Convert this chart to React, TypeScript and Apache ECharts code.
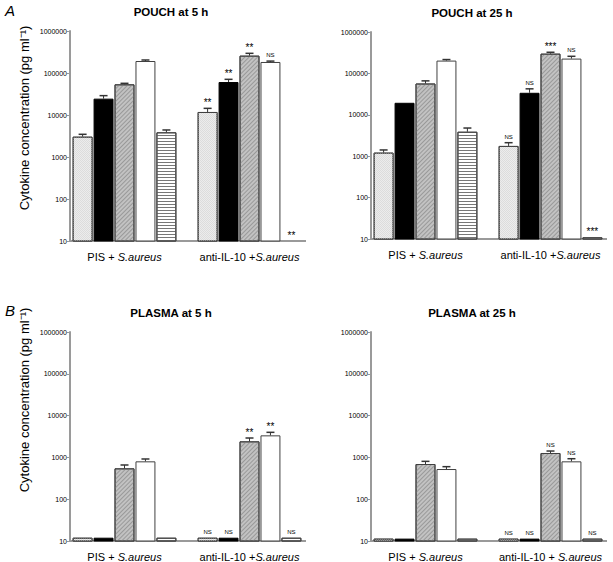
import React, { useEffect, useRef } from 'react';
import * as echarts from 'echarts';

// ---------- data ----------
const groupsA = ['PIS + S.aureus', 'anti-IL-10 +S.aureus'];
const groupsB25 = ['PIS + S.aureus', 'anti-IL-10 + S.aureus'];
const yTicks = [10, 100, 1000, 10000, 100000, 1000000];
const panelTitles = ['POUCH at 5 h', 'POUCH at 25 h', 'PLASMA at 5 h', 'PLASMA at 25 h'];
const seriesNames = ['Cytokine 1', 'Cytokine 2', 'Cytokine 3', 'Cytokine 4', 'Cytokine 5'];

// each row: one cytokine, [PIS + S.aureus, anti-IL-10 + S.aureus]
const pouch5Values = [[3050, 11800], [24500, 61000], [53700, 259000], [193000, 183000], [3870, null]];
const pouch5Errors = [[3470, 14400], [28900, 70700], [56800, 294000], [204000, 192000], [4400, null]];
const pouch5Sig = ['**', '**', '**', 'NS', '**'];

const pouch25Values = [[1220, 1770], [19500, 34000], [57000, 300000], [204000, 228000], [3900, 11]];
const pouch25Errors = [[1415, 2120], [20000, 42400], [66000, 324000], [216000, 259000], [4790, null]];
const pouch25Sig = ['NS', 'NS', '***', 'NS', '***'];

const plasma5Values = [[12, 12], [12, 12], [547, 2420], [805, 3370], [12, 12]];
const plasma5Errors = [[null, null], [null, null], [658, 2910], [916, 3980], [null, null]];
const plasma5Sig = ['NS', 'NS', '**', '**', 'NS'];

const plasma25Values = [[11.4, 11.4], [11.4, 11.4], [695, 1275], [527, 805], [11.4, 11.4]];
const plasma25Errors = [[null, null], [null, null], [805, 1420], [600, 930], [null, null]];
const plasma25Sig = ['NS', 'NS', 'NS', 'NS', 'NS'];

const yName = 'Cytokine concentration (pg ml\u207B\u00B9)';
const italicPart = 'S.aureus';

// ---------- styling / layout ----------
const NARROW = "'Liberation Sans Narrow', 'Arial Narrow', 'Liberation Sans', Arial, sans-serif";
const SANS = "'Liberation Sans', Arial, sans-serif";
const AXIS_COLOR = '#9a9a9a';
const CAT_GAP = 0.17;
const BAR_GAP = 0.05;

const panels = [
  { values: pouch5Values, errors: pouch5Errors, sig: pouch5Sig, cats: groupsA, left: 62, top: 31, height: 210 },
  { values: pouch25Values, errors: pouch25Errors, sig: pouch25Sig, cats: groupsA, left: 363, top: 32, height: 207 },
  { values: plasma5Values, errors: plasma5Errors, sig: plasma5Sig, cats: groupsA, left: 62, top: 332, height: 209 },
  { values: plasma25Values, errors: plasma25Errors, sig: plasma25Sig, cats: groupsB25, left: 363, top: 332, height: 209 },
];
const GRID_W = 250;
const Y_OFFSET = -8;

const BORDER = '#404040';
const barStyles = [
  {
    color: '#dcdcdc', borderColor: BORDER, borderWidth: 1,
    decal: { symbol: 'rect', symbolSize: 1, color: '#ececec', dashArrayX: [[1, 1], [0, 1, 1, 0]], dashArrayY: [1, 0] },
  },
  { color: '#000000', borderColor: '#000', borderWidth: 1 },
  {
    color: '#c2c2c2', borderColor: BORDER, borderWidth: 1,
    decal: { symbol: 'rect', symbolSize: 1, color: '#999999', dashArrayX: [1, 0], dashArrayY: [1, 2], rotation: -Math.PI / 4 },
  },
  { color: '#ffffff', borderColor: BORDER, borderWidth: 1 },
  {
    color: '#ffffff', borderColor: BORDER, borderWidth: 1,
    decal: { symbol: 'rect', symbolSize: 1, color: '#777', dashArrayX: [1, 0], dashArrayY: [1, 2], rotation: 0 },
  },
];

export default function App() {
  const ref = useRef<HTMLDivElement>(null);
  useEffect(() => {
    if (!ref.current) return;
    const chart = echarts.init(ref.current, undefined, { renderer: 'svg' });

    const grid: any[] = [];
    const xAxis: any[] = [];
    const yAxis: any[] = [];
    const series: any[] = [];
    const graphic: any[] = [];

    panels.forEach((p, pi) => {
      grid.push({ left: p.left, top: p.top, width: GRID_W, height: p.height });
      xAxis.push({
        type: 'category', gridIndex: pi, data: p.cats,
        axisLine: { show: false }, axisTick: { show: false },
        axisLabel: {
          interval: 0, margin: 10, color: '#000', hideOverlap: false,
          formatter: (v: string) => {
            const k = v.indexOf(italicPart);
            return '{n|' + v.slice(0, k) + '}{i|' + italicPart + '}';
          },
          rich: {
            n: { fontFamily: NARROW, fontSize: 11, color: '#000' },
            i: { fontFamily: NARROW, fontSize: 11, fontStyle: 'italic', color: '#000' },
          },
        },
      });
      yAxis.push({
        type: 'log', logBase: 10, gridIndex: pi, min: yTicks[0], max: yTicks[yTicks.length - 1],
        offset: Y_OFFSET,
        axisLine: { show: true, lineStyle: { color: AXIS_COLOR, width: 2 } },
        axisTick: { show: true, length: 3, lineStyle: { color: AXIS_COLOR, width: 1 } },
        splitLine: { show: false },
        axisLabel: { fontFamily: NARROW, fontSize: 7, color: '#000', margin: 3, formatter: (v: number) => String(Math.round(v)) },
      });

      p.values.forEach((vals, si) => {
        series.push({
          type: 'bar', name: seriesNames[si], xAxisIndex: pi, yAxisIndex: pi,
          data: vals.map((v) => (v == null ? '-' : v)),
          barGap: BAR_GAP * 100 + '%', barCategoryGap: CAT_GAP * 100 + '%',
          itemStyle: barStyles[si],
          clip: true,
          silent: true,
        });
      });

      // error bars + significance labels
      const items: any[] = [];
      const labels: string[] = [];
      p.values.forEach((vals, si) => {
        vals.forEach((v, ci) => {
          const e = p.errors[si][ci];
          const base = v == null ? yTicks[0] : v;
          items.push([ci, si, base, e == null ? base : e]);
          labels.push(ci === 1 ? p.sig[si] : '');
        });
      });
      series.push({
        type: 'custom', xAxisIndex: pi, yAxisIndex: pi, data: items, z: 10, silent: true, clip: false,
        renderItem: (params: any, api: any) => {
          const cat = api.value(0);
          const si = api.value(1);
          const v = api.value(2);
          const e = api.value(3);
          const band = api.coord([1, 10])[0] - api.coord([0, 10])[0];
          const n = 5;
          const bw = (band - band * CAT_GAP) / (n + (n - 1) * BAR_GAP);
          const total = n * bw + (n - 1) * bw * BAR_GAP;
          const cx = api.coord([cat, 10])[0] - total / 2 + si * bw * (1 + BAR_GAP) + bw / 2;
          const yv = api.coord([cat, v])[1];
          const ye = api.coord([cat, e])[1];
          const children: any[] = [];
          if (ye < yv - 0.5) {
            children.push({ type: 'line', shape: { x1: cx, y1: yv, x2: cx, y2: ye }, style: { stroke: '#333', lineWidth: 1 } });
            children.push({ type: 'line', shape: { x1: cx - 4, y1: ye, x2: cx + 4, y2: ye }, style: { stroke: '#333', lineWidth: 1.5 } });
          }
          const lab = labels[params.dataIndex];
          if (lab) {
            const ns = lab === 'NS';
            children.push({
              type: 'text',
              style: {
                text: lab, x: cx, y: Math.min(ye, yv) - (ns ? 3 : 1),
                align: 'center', verticalAlign: 'bottom',
                fontFamily: NARROW, fontSize: ns ? 6 : 10, fill: '#000',
              },
            });
          }
          return { type: 'group', children };
        },
      });

      const baseY = p.top + p.height;
      const axisX = p.left - Y_OFFSET;
      graphic.push({
        type: 'line', shape: { x1: axisX, y1: baseY, x2: p.left + GRID_W - 6, y2: baseY },
        style: { stroke: AXIS_COLOR, lineWidth: 2 }, silent: true,
      });
      graphic.push({
        type: 'text', x: p.left + 109, y: p.top - 19,
        style: { text: panelTitles[pi], fontFamily: NARROW, fontSize: 11.5, fontWeight: 'bold', fill: '#000', align: 'center', verticalAlign: 'middle' },
      });
    });

    graphic.push({
      type: 'text', x: 24, y: 118, rotation: Math.PI / 2,
      style: { text: yName, fontFamily: SANS, fontSize: 13, fill: '#000', align: 'center', verticalAlign: 'middle' },
    });
    graphic.push({
      type: 'text', x: 24, y: 400, rotation: Math.PI / 2,
      style: { text: yName, fontFamily: SANS, fontSize: 13, fill: '#000', align: 'center', verticalAlign: 'middle' },
    });
    graphic.push({
      type: 'text', x: 5, y: 10,
      style: { text: 'A', fontFamily: SANS, fontSize: 15, fontStyle: 'italic', fill: '#000', align: 'left', verticalAlign: 'middle' },
    });
    graphic.push({
      type: 'text', x: 5, y: 310,
      style: { text: 'B', fontFamily: SANS, fontSize: 15, fontStyle: 'italic', fill: '#000', align: 'left', verticalAlign: 'middle' },
    });

    chart.setOption({
      animation: false,
      backgroundColor: '#ffffff',
      grid, xAxis, yAxis, series, graphic,
    });
    return () => chart.dispose();
  }, []);
  return <div ref={ref} style={{ position: 'fixed', left: 0, top: 0, width: 613, height: 562 }} />;
}
